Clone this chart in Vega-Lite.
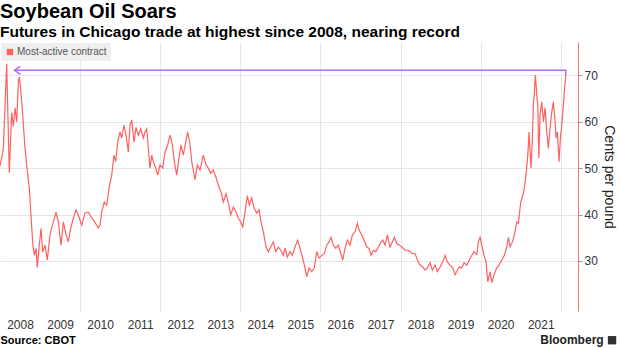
{
 "$schema": "https://vega.github.io/schema/vega-lite/v6.json",
 "width": 578,
 "height": 269,
 "autosize": {"type": "none"},
 "padding": {"left": 0, "top": 42, "right": 42, "bottom": 37},
 "background": "white",
 "config": {"view": {"stroke": null}, "font": "Liberation Sans"},
 "title": {
  "text": "Soybean Oil Soars",
  "subtitle": "Futures in Chicago trade at highest since 2008, nearing record",
  "anchor": "start", "frame": "group",
  "font": "Liberation Sans", "subtitleFont": "Liberation Sans",
  "fontSize": 20, "fontWeight": "bold", "color": "#000",
  "subtitleFontSize": 15.5, "subtitleFontWeight": "bold", "subtitleColor": "#000",
  "subtitlePadding": 3, "offset": 2
 },
 "layer": [
  {
   "data": {"values": [
    {"year": 2008.000, "value": 50.5}, {"year": 2008.082, "value": 54}, {"year": 2008.167, "value": 72.5}, {"year": 2008.232, "value": 49},
    {"year": 2008.292, "value": 62}, {"year": 2008.332, "value": 59}, {"year": 2008.375, "value": 63}, {"year": 2008.417, "value": 60},
    {"year": 2008.457, "value": 68.6}, {"year": 2008.482, "value": 69.7}, {"year": 2008.517, "value": 67}, {"year": 2008.567, "value": 61.5},
    {"year": 2008.624, "value": 54.3}, {"year": 2008.667, "value": 50.6}, {"year": 2008.732, "value": 45.6}, {"year": 2008.774, "value": 39.8},
    {"year": 2008.816, "value": 34}, {"year": 2008.856, "value": 31.2}, {"year": 2008.899, "value": 32.7}, {"year": 2008.931, "value": 28.6},
    {"year": 2008.981, "value": 33.4}, {"year": 2009.024, "value": 37}, {"year": 2009.066, "value": 31.9}, {"year": 2009.124, "value": 33.4},
    {"year": 2009.181, "value": 30.2}, {"year": 2009.248, "value": 35.6}, {"year": 2009.331, "value": 38.4}, {"year": 2009.398, "value": 40.5},
    {"year": 2009.456, "value": 38.4}, {"year": 2009.523, "value": 33.4}, {"year": 2009.581, "value": 38.4}, {"year": 2009.648, "value": 35.6},
    {"year": 2009.705, "value": 34.1}, {"year": 2009.765, "value": 37}, {"year": 2009.830, "value": 39.2}, {"year": 2009.898, "value": 41},
    {"year": 2009.955, "value": 39.9}, {"year": 2010.040, "value": 37.7}, {"year": 2010.122, "value": 40.3}, {"year": 2010.205, "value": 40.5},
    {"year": 2010.290, "value": 39.2}, {"year": 2010.372, "value": 38.3}, {"year": 2010.454, "value": 37.1}, {"year": 2010.497, "value": 37.8},
    {"year": 2010.539, "value": 40.5}, {"year": 2010.604, "value": 42.7}, {"year": 2010.664, "value": 42}, {"year": 2010.722, "value": 45.7},
    {"year": 2010.789, "value": 48.5}, {"year": 2010.846, "value": 52.8}, {"year": 2010.889, "value": 51.4}, {"year": 2010.939, "value": 55.6},
    {"year": 2010.996, "value": 57.8}, {"year": 2011.039, "value": 56.5}, {"year": 2011.096, "value": 59.3}, {"year": 2011.146, "value": 57.1},
    {"year": 2011.204, "value": 53.5}, {"year": 2011.246, "value": 59.3}, {"year": 2011.288, "value": 60.4}, {"year": 2011.346, "value": 55.6},
    {"year": 2011.396, "value": 58.8}, {"year": 2011.453, "value": 57.1}, {"year": 2011.513, "value": 58.5}, {"year": 2011.578, "value": 56.5},
    {"year": 2011.620, "value": 57.8}, {"year": 2011.663, "value": 58.5}, {"year": 2011.703, "value": 54.3}, {"year": 2011.745, "value": 50},
    {"year": 2011.788, "value": 52.8}, {"year": 2011.828, "value": 51.4}, {"year": 2011.888, "value": 50}, {"year": 2011.938, "value": 48.5},
    {"year": 2011.995, "value": 50.7}, {"year": 2012.062, "value": 50}, {"year": 2012.120, "value": 53.5}, {"year": 2012.187, "value": 55},
    {"year": 2012.245, "value": 57.1}, {"year": 2012.302, "value": 55}, {"year": 2012.352, "value": 51.4}, {"year": 2012.412, "value": 48.5},
    {"year": 2012.469, "value": 52.2}, {"year": 2012.519, "value": 55}, {"year": 2012.577, "value": 52.8}, {"year": 2012.637, "value": 55.6},
    {"year": 2012.687, "value": 57.8}, {"year": 2012.744, "value": 55}, {"year": 2012.787, "value": 51.4}, {"year": 2012.869, "value": 47.5},
    {"year": 2012.926, "value": 50.7}, {"year": 2012.994, "value": 49.6}, {"year": 2013.076, "value": 52.8}, {"year": 2013.144, "value": 50.7},
    {"year": 2013.201, "value": 50}, {"year": 2013.261, "value": 48.9}, {"year": 2013.326, "value": 49.6}, {"year": 2013.393, "value": 48},
    {"year": 2013.451, "value": 46.3}, {"year": 2013.518, "value": 44.8}, {"year": 2013.575, "value": 42.7}, {"year": 2013.643, "value": 44.5},
    {"year": 2013.700, "value": 42.5}, {"year": 2013.760, "value": 39.9}, {"year": 2013.825, "value": 41.6}, {"year": 2013.893, "value": 40.5},
    {"year": 2013.950, "value": 39.2}, {"year": 2014.010, "value": 38.4}, {"year": 2014.060, "value": 37.3}, {"year": 2014.117, "value": 40.5},
    {"year": 2014.175, "value": 44.1}, {"year": 2014.225, "value": 42}, {"year": 2014.285, "value": 43.6}, {"year": 2014.342, "value": 41.4},
    {"year": 2014.410, "value": 40.3}, {"year": 2014.467, "value": 41}, {"year": 2014.517, "value": 38.4}, {"year": 2014.574, "value": 36.3},
    {"year": 2014.642, "value": 33}, {"year": 2014.699, "value": 32}, {"year": 2014.759, "value": 33}, {"year": 2014.824, "value": 34.1},
    {"year": 2014.884, "value": 32}, {"year": 2014.949, "value": 33}, {"year": 2015.009, "value": 32.3}, {"year": 2015.074, "value": 31.2},
    {"year": 2015.116, "value": 32.8}, {"year": 2015.174, "value": 30.8}, {"year": 2015.241, "value": 32}, {"year": 2015.298, "value": 31.2},
    {"year": 2015.366, "value": 33}, {"year": 2015.433, "value": 34.5}, {"year": 2015.491, "value": 32.7}, {"year": 2015.548, "value": 30.9},
    {"year": 2015.598, "value": 29.1}, {"year": 2015.658, "value": 26.6}, {"year": 2015.715, "value": 28.5}, {"year": 2015.783, "value": 27.7},
    {"year": 2015.848, "value": 28.5}, {"year": 2015.908, "value": 32}, {"year": 2015.965, "value": 30.6}, {"year": 2016.032, "value": 31.2},
    {"year": 2016.098, "value": 31.6}, {"year": 2016.157, "value": 33.4}, {"year": 2016.215, "value": 34.1}, {"year": 2016.265, "value": 35.1},
    {"year": 2016.322, "value": 33.4}, {"year": 2016.382, "value": 32.7}, {"year": 2016.447, "value": 33.4}, {"year": 2016.507, "value": 31.6},
    {"year": 2016.557, "value": 30.2}, {"year": 2016.614, "value": 32.7}, {"year": 2016.672, "value": 34.5}, {"year": 2016.739, "value": 33.4},
    {"year": 2016.797, "value": 35.6}, {"year": 2016.864, "value": 36.3}, {"year": 2016.921, "value": 38.1}, {"year": 2016.964, "value": 36.7},
    {"year": 2017.031, "value": 35.6}, {"year": 2017.089, "value": 34.5}, {"year": 2017.156, "value": 33}, {"year": 2017.213, "value": 32.7},
    {"year": 2017.263, "value": 31.2}, {"year": 2017.321, "value": 32.3}, {"year": 2017.381, "value": 32}, {"year": 2017.446, "value": 33},
    {"year": 2017.513, "value": 34.1}, {"year": 2017.556, "value": 34.5}, {"year": 2017.613, "value": 33.4}, {"year": 2017.671, "value": 35.6},
    {"year": 2017.738, "value": 33}, {"year": 2017.795, "value": 34.1}, {"year": 2017.845, "value": 35.1}, {"year": 2017.905, "value": 33.8},
    {"year": 2017.970, "value": 33.4}, {"year": 2018.030, "value": 33}, {"year": 2018.112, "value": 32.3}, {"year": 2018.195, "value": 32.3},
    {"year": 2018.280, "value": 31.6}, {"year": 2018.362, "value": 31.6}, {"year": 2018.419, "value": 30.2}, {"year": 2018.487, "value": 29.1},
    {"year": 2018.554, "value": 28.7}, {"year": 2018.612, "value": 28}, {"year": 2018.669, "value": 28.5}, {"year": 2018.737, "value": 29.6},
    {"year": 2018.794, "value": 28}, {"year": 2018.861, "value": 29.1}, {"year": 2018.919, "value": 27.7}, {"year": 2018.986, "value": 28.7},
    {"year": 2019.054, "value": 29.8}, {"year": 2019.111, "value": 31.2}, {"year": 2019.168, "value": 29.8}, {"year": 2019.236, "value": 29.1},
    {"year": 2019.303, "value": 28.5}, {"year": 2019.361, "value": 27}, {"year": 2019.403, "value": 27.7}, {"year": 2019.468, "value": 28.7},
    {"year": 2019.528, "value": 28.5}, {"year": 2019.586, "value": 29.6}, {"year": 2019.653, "value": 29.1}, {"year": 2019.718, "value": 30.2},
    {"year": 2019.778, "value": 31.2}, {"year": 2019.835, "value": 32}, {"year": 2019.903, "value": 31.4}, {"year": 2019.943, "value": 34.1},
    {"year": 2019.985, "value": 35.1}, {"year": 2020.027, "value": 33.4}, {"year": 2020.085, "value": 31.2}, {"year": 2020.135, "value": 29.8},
    {"year": 2020.177, "value": 25.5}, {"year": 2020.235, "value": 27.7}, {"year": 2020.277, "value": 25.3}, {"year": 2020.335, "value": 27},
    {"year": 2020.402, "value": 28.5}, {"year": 2020.459, "value": 29.1}, {"year": 2020.527, "value": 30.2}, {"year": 2020.592, "value": 31.2},
    {"year": 2020.652, "value": 33}, {"year": 2020.692, "value": 35.1}, {"year": 2020.734, "value": 33}, {"year": 2020.792, "value": 34.1},
    {"year": 2020.842, "value": 35.6}, {"year": 2020.901, "value": 38.4}, {"year": 2020.941, "value": 38.1}, {"year": 2021.001, "value": 42.7},
    {"year": 2021.051, "value": 44.1}, {"year": 2021.091, "value": 45.7}, {"year": 2021.133, "value": 48.5}, {"year": 2021.176, "value": 52.8},
    {"year": 2021.209, "value": 57.8}, {"year": 2021.233, "value": 53.5}, {"year": 2021.258, "value": 50}, {"year": 2021.291, "value": 56.5},
    {"year": 2021.316, "value": 63.7}, {"year": 2021.341, "value": 66.5}, {"year": 2021.366, "value": 70.1}, {"year": 2021.401, "value": 65.8},
    {"year": 2021.426, "value": 63.7}, {"year": 2021.451, "value": 52.2}, {"year": 2021.483, "value": 61.5}, {"year": 2021.526, "value": 64.3},
    {"year": 2021.566, "value": 60}, {"year": 2021.608, "value": 63}, {"year": 2021.650, "value": 57.8}, {"year": 2021.690, "value": 54.3},
    {"year": 2021.733, "value": 58.7}, {"year": 2021.775, "value": 62.1}, {"year": 2021.815, "value": 64.3}, {"year": 2021.858, "value": 60},
    {"year": 2021.883, "value": 56.5}, {"year": 2021.915, "value": 57.8}, {"year": 2021.958, "value": 51.4}, {"year": 2021.990, "value": 56.5},
    {"year": 2022.025, "value": 59.3}, {"year": 2022.065, "value": 63.7}, {"year": 2022.090, "value": 66.5}, {"year": 2022.125, "value": 70.1}
   ]},
   "mark": {"type": "line", "strokeWidth": 1.2},
   "encoding": {
    "x": {
     "field": "year", "type": "quantitative", "title": "Source: CBOT",
     "scale": {"domain": [2008, 2022.43], "nice": false, "zero": false},
     "axis": {
      "values": [2008, 2009, 2010, 2011, 2012, 2013, 2014, 2015, 2016, 2017, 2018, 2019, 2020, 2021, 2022],
      "format": "d",
      "labelExpr": "datum.value > 2021 ? '' : datum.label",
      "labelOffset": 20, "ticks": false, "domain": false,
      "grid": true, "gridColor": "#e6e6e6",
      "gridOpacity": {"condition": {"test": "datum.value % 2 == 0 && datum.value > 2008", "value": 1}, "value": 0},
      "labelPadding": 8, "labelFontSize": 12, "labelColor": "#333",
      "labelFlush": false, "labelOverlap": false, "labelBound": false,
      "title": "Source: CBOT", "titleAnchor": "start", "titleAlign": "left",
      "titleFontSize": 11, "titleFontWeight": "bold", "titleColor": "#000", "titlePadding": 4
     }
    },
    "y": {
     "field": "value", "type": "quantitative", "title": "Cents per pound",
     "scale": {"domain": [19.2, 77.2], "nice": false, "zero": false},
     "axis": {
      "orient": "right", "values": [30, 40, 50, 60, 70],
      "grid": true, "gridColor": "#e6e6e6",
      "domainColor": "#ff7070", "domainWidth": 1,
      "tickColor": "#999", "tickSize": 4,
      "labelPadding": 2, "labelFontSize": 12, "labelColor": "#333",
      "title": "Cents per pound", "titleFontSize": 14, "titleFontWeight": "normal",
      "titleColor": "#222", "titlePadding": 4
     }
    },
    "color": {
     "datum": "Most-active contract",
     "scale": {"range": ["#ff6060"]},
     "legend": {
      "orient": "top-left", "offset": 1, "title": null,
      "fillColor": "#efefef", "padding": 4,
      "symbolType": "square", "symbolFillColor": "#ff6060", "symbolStrokeColor": "#ff6060",
      "symbolStrokeWidth": 0, "symbolSize": 40,
      "labelFontSize": 10, "labelColor": "#555", "labelFont": "Liberation Sans", "labelOffset": 2
     }
    }
   }
  },
  {
   "data": {"values": [
    {"year": 2022.125, "value": 70.1, "k": 1},
    {"year": 2022.125, "value": 71.1, "k": 2},
    {"year": 2008.36, "value": 71.1, "k": 3}
   ]},
   "mark": {"type": "line", "color": "#b36cf5", "strokeWidth": 1.5},
   "encoding": {
    "x": {"field": "year", "type": "quantitative", "title": "Source: CBOT"},
    "y": {"field": "value", "type": "quantitative", "title": "Cents per pound"},
    "order": {"field": "k", "type": "quantitative"}
   }
  },
  {
   "data": {"values": [{"year": 2008.36, "value": 71.1}]},
   "mark": {"type": "point", "shape": "M1.5,-1L0,0L1.5,1", "size": 64, "filled": false, "color": "#b36cf5", "strokeWidth": 1.5, "opacity": 1},
   "encoding": {
    "x": {"field": "year", "type": "quantitative", "title": "Source: CBOT"},
    "y": {"field": "value", "type": "quantitative", "title": "Cents per pound"}
   }
  },
  {
   "data": {"values": [{"label": "Bloomberg"}]},
   "mark": {"type": "text", "align": "right", "baseline": "middle", "fontSize": 12, "fontWeight": "bold", "color": "#222", "clip": false},
   "encoding": {
    "x": {"datum": 2023.07, "type": "quantitative", "title": "Source: CBOT"},
    "y": {"datum": 12.9, "type": "quantitative", "title": "Cents per pound"},
    "text": {"field": "label", "type": "nominal"}
   }
  },
  {
   "data": {"values": [{"label": "logo"}]},
   "mark": {"type": "square", "size": 70, "filled": true, "color": "#333", "opacity": 1, "clip": false},
   "encoding": {
    "x": {"datum": 2023.28, "type": "quantitative", "title": "Source: CBOT"},
    "y": {"datum": 12.9, "type": "quantitative", "title": "Cents per pound"}
   }
  }
 ]
}
